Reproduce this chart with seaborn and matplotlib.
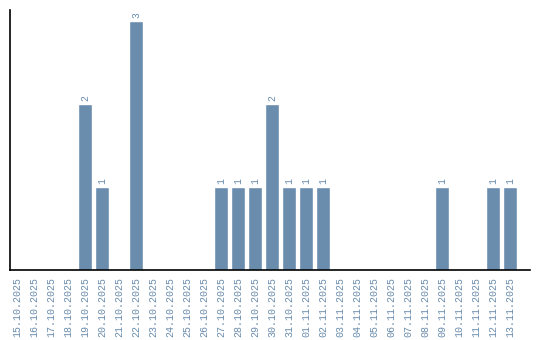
import matplotlib
matplotlib.use("Agg")
import matplotlib.pyplot as plt
import seaborn as sns
import pandas as pd

dates = ["15.10.2025","16.10.2025","17.10.2025","18.10.2025","19.10.2025","20.10.2025",
         "21.10.2025","22.10.2025","23.10.2025","24.10.2025","25.10.2025","26.10.2025",
         "27.10.2025","28.10.2025","29.10.2025","30.10.2025","31.10.2025","01.11.2025",
         "02.11.2025","03.11.2025","04.11.2025","05.11.2025","06.11.2025","07.11.2025",
         "08.11.2025","09.11.2025","10.11.2025","11.11.2025","12.11.2025","13.11.2025"]
counts = [0,0,0,0,2,1,0,3,0,0,0,0,1,1,1,2,1,1,1,0,0,0,0,0,0,1,0,0,1,1]

df = pd.DataFrame({"date": dates, "count": counts})

sns.set_style("white")
plt.rcParams['font.family'] = ['Liberation Mono', 'DejaVu Sans Mono']

bar_color = "#6a8cad"
text_color = "#6a8cad"

fig = plt.figure(figsize=(5.4, 3.4), dpi=100)
ax = fig.add_axes([10/540, 70/340, 520/540, 260/340])
sns.barplot(data=df, x="date", y="count", color=bar_color, width=0.82, ax=ax,
            saturation=1)

for i, v in enumerate(counts):
    if v > 0:
        ax.text(i, v + 0.03, str(v), rotation=90, ha="center", va="bottom",
                fontsize=7, color=text_color)

ax.set_xlim(-0.41, 29 + 1.18)
ax.set_ylim(0, 3.13)
ax.set_xlabel("")
ax.set_ylabel("")
ax.set_yticks([])
ax.tick_params(axis="x", rotation=90, labelsize=7.2, colors=text_color, length=0, pad=5)
for s in ["top", "right"]:
    ax.spines[s].set_visible(False)
for s in ["left", "bottom"]:
    ax.spines[s].set_color("black")
    ax.spines[s].set_linewidth(1.2)

fig.savefig("out.png", dpi=100)
